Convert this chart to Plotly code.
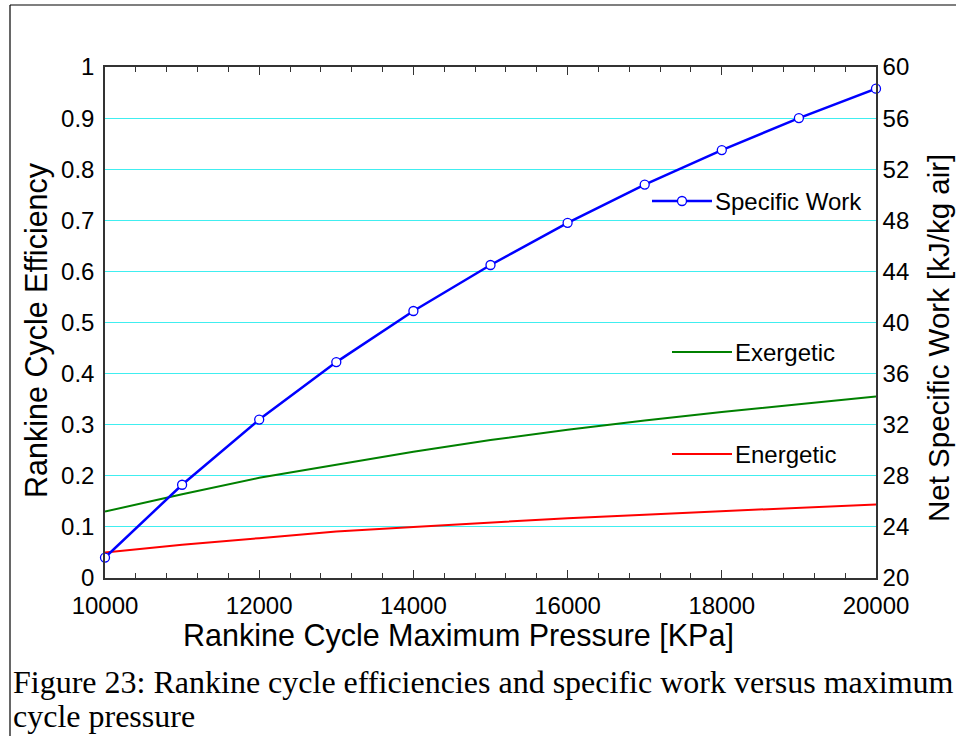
import plotly.graph_objects as go

# Rankine cycle maximum pressure [kPa]
pressure = [10000, 11000, 12000, 13000, 14000, 15000, 16000, 17000, 18000, 19000, 20000]
# Net specific work [kJ/kg air]
specific_work = [21.6, 27.3, 32.4, 36.9, 40.9, 44.5, 47.8, 50.8, 53.5, 56.0, 58.3]
# Cycle efficiencies
exergetic = [0.130, 0.164, 0.196, 0.222, 0.247, 0.270, 0.290, 0.308, 0.325, 0.340, 0.355]
energetic = [0.050, 0.065, 0.078, 0.091, 0.100, 0.109, 0.117, 0.124, 0.131, 0.138, 0.144]

W, H = 956, 736
L, R, T, B = 105, 876, 67, 578  # plot area in pixels


def px(x):
    return (x - L) / (R - L)


def py(y):
    return (B - y) / (B - T)


SANS = "Liberation Sans, Arial, sans-serif"
SERIF = "Liberation Serif, Times New Roman, serif"
TICK = 24
TITLE = 30.5

fig = go.Figure()
fig.add_trace(go.Scatter(x=pressure, y=exergetic, mode="lines",
                         line=dict(color="#008000", width=2), name="Exergetic"))
fig.add_trace(go.Scatter(x=pressure, y=energetic, mode="lines",
                         line=dict(color="#ff0000", width=2), name="Energetic"))
fig.add_trace(go.Scatter(x=pressure, y=specific_work, mode="lines+markers", yaxis="y2",
                         line=dict(color="#0000ff", width=2.5),
                         marker=dict(symbol="circle", size=9, color="white",
                                     line=dict(color="#0000ff", width=1.3)),
                         cliponaxis=False, name="Specific Work"))

fig.update_layout(
    width=W, height=H, showlegend=False,
    paper_bgcolor="white", plot_bgcolor="white",
    margin=dict(l=L, r=W - R, t=T, b=H - B, pad=0),
    font=dict(family=SANS, color="black"),
    xaxis=dict(range=[10000, 20000], dtick=2000, tick0=10000, tickformat="d",
               ticks="inside", ticklen=8, tickcolor="#333", tickwidth=1,
               minor=dict(dtick=400, ticks="inside", ticklen=5, tickcolor="#333"),
               showline=True, linecolor="#333", linewidth=1.5, mirror="ticks",
               showgrid=False, zeroline=False,
               tickfont=dict(size=TICK, family=SANS), ticklabelstandoff=5),
    yaxis=dict(range=[0, 1], dtick=0.1, tick0=0, ticks="",
               showline=True, linecolor="#333", linewidth=1.5,
               showgrid=True, gridcolor="#40eef0", gridwidth=1, zeroline=False,
               tickfont=dict(size=TICK, family=SANS), ticklabelstandoff=4),
    yaxis2=dict(range=[20, 60], dtick=4, tick0=20, overlaying="y", side="right",
                ticks="", showline=True, linecolor="#333", linewidth=1.5,
                showgrid=False, zeroline=False,
                tickfont=dict(size=TICK, family=SANS), ticklabelstandoff=0),
)

shapes = []
annotations = []

# axis titles
annotations.append(dict(text="Rankine Cycle Maximum Pressure [KPa]", xref="paper", yref="paper",
                        x=px(458), y=py(636), xanchor="center", yanchor="middle",
                        showarrow=False, font=dict(size=TITLE, family=SANS)))
annotations.append(dict(text="Rankine Cycle Efficiency", xref="paper", yref="paper",
                        x=px(36), y=py(330), xanchor="center", yanchor="middle", textangle=-90,
                        showarrow=False, font=dict(size=TITLE, family=SANS)))
annotations.append(dict(text="Net Specific Work [kJ/kg air]", xref="paper", yref="paper",
                        x=px(938), y=py(338), xanchor="center", yanchor="middle", textangle=-90,
                        showarrow=False, font=dict(size=29.5, family=SANS)))

# in-plot labels with line samples
key_items = [
    ("Specific Work", "#0000ff", 2.5, 652, 712, 201, True),
    ("Exergetic", "#008000", 2, 672, 732, 352, False),
    ("Energetic", "#ff0000", 2, 672, 732, 454, False),
]
for text, color, width, x0, x1, y, marker in key_items:
    shapes.append(dict(type="line", xref="paper", yref="paper",
                       x0=px(x0), x1=px(x1), y0=py(y), y1=py(y),
                       line=dict(color=color, width=width)))
    if marker:
        shapes.append(dict(type="circle", xref="paper", yref="paper",
                           xsizemode="pixel", ysizemode="pixel",
                           xanchor=px((x0 + x1) / 2), yanchor=py(y),
                           x0=-4.5, x1=4.5, y0=-4.5, y1=4.5,
                           fillcolor="white", line=dict(color=color, width=1.3)))
    annotations.append(dict(text=text, xref="paper", yref="paper",
                            x=px(x1 + 1), y=py(y), xanchor="left", yanchor="middle",
                            showarrow=False, font=dict(size=TICK, family=SANS)))

# page frame lines
shapes.append(dict(type="line", xref="paper", yref="paper",
                   x0=px(10), x1=px(10), y0=py(5), y1=py(740),
                   line=dict(color="black", width=1.2)))
shapes.append(dict(type="line", xref="paper", yref="paper",
                   x0=px(10), x1=px(960), y0=py(5), y1=py(5),
                   line=dict(color="black", width=1.2)))

# figure caption
annotations.append(dict(text="Figure 23: Rankine cycle efficiencies and specific work versus maximum",
                        xref="paper", yref="paper", x=px(11), y=py(682),
                        xanchor="left", yanchor="middle", showarrow=False,
                        font=dict(size=32, family=SERIF)))
annotations.append(dict(text="cycle pressure",
                        xref="paper", yref="paper", x=px(11), y=py(716),
                        xanchor="left", yanchor="middle", showarrow=False,
                        font=dict(size=32, family=SERIF)))

fig.update_layout(shapes=shapes, annotations=annotations)
fig.write_html("out.html")
